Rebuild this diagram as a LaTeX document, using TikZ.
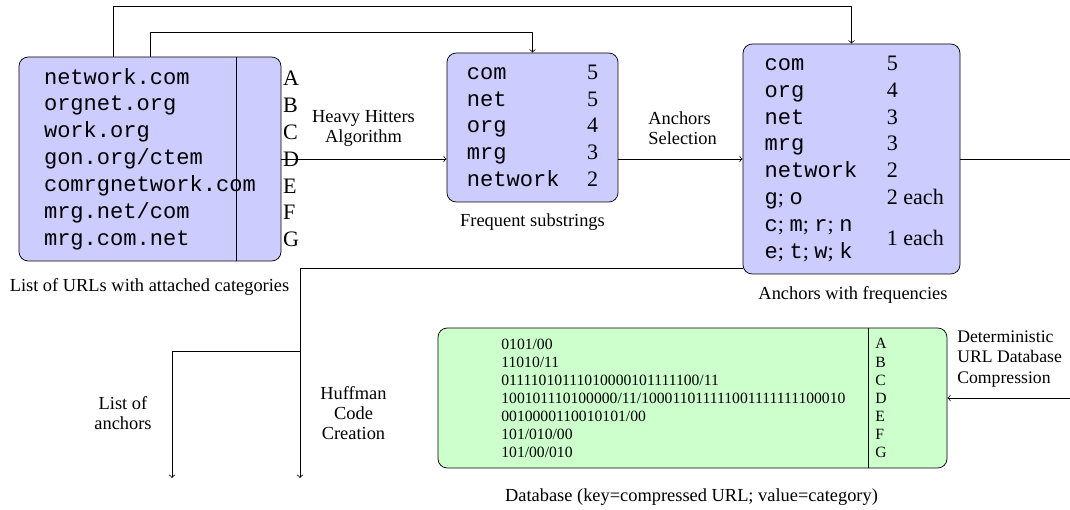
\documentclass[tikz,border=0pt]{standalone}
\usepackage{fontspec}
\setmainfont{Liberation Serif}
\setmonofont{Liberation Mono}
\begin{document}
\begin{tikzpicture}[x=0.5435pt,y=-0.5435pt,>=to,line join=round,
  font=\fontsize{10}{11}\selectfont,
  box/.style={draw,rounded corners=5pt,inner sep=0pt},
  bigtxt/.style={font=\fontsize{12}{14.6}\selectfont},
  bigtt/.style={font=\fontsize{12}{14.6}\selectfont\ttfamily},
  smalltxt/.style={font=\fontsize{8.5}{9.8}\selectfont}]
\def\pxu{0.5435pt}
\def\xmax{1070}
\def\ymax{510}
\useasboundingbox (0,0) rectangle (\xmax,\ymax);
% URL list
\node[box,fill=blue!20,bigtt,minimum width=262*\pxu,minimum height=204*\pxu,align=left] (urls) at (150,159)
  {network.com\\orgnet.org\\work.org\\gon.org/ctem\\comrgnetwork.com\\mrg.net/com\\mrg.com.net};
\coordinate (uv) at (236,0);
\draw (urls.north -| uv) -- (urls.south -| uv);
\node[bigtxt,align=left] (cats) at (291,159) {A\\B\\C\\D\\E\\F\\G};
\node (capurls) at (149.5,287) {List of URLs with attached categories};
% frequent substrings
\node[box,fill=blue!20,bigtxt,minimum width=171*\pxu,minimum height=149*\pxu] (freq) at (532.5,127.5)
  {\begin{tabular}{@{}l@{\hspace{15pt}}r@{}}
  \texttt{com} & 5\\ \texttt{net} & 5\\ \texttt{org} & 4\\ \texttt{mrg} & 3\\ \texttt{network} & 2
  \end{tabular}};
\node (capfreq) at (532.5,222) {Frequent substrings};
% anchors
\node[box,fill=blue!20,bigtxt,minimum width=217*\pxu,minimum height=230*\pxu] (anch) at (851.5,159)
  {\hspace{3pt}\begin{tabular}{@{}l@{\hspace{16pt}}l@{}}
  \texttt{com} & 5\\ \texttt{org} & 4\\ \texttt{net} & 3\\ \texttt{mrg} & 3\\ \texttt{network} & 2\\
  \texttt{g}; \texttt{o} & 2 each\\
  \begin{tabular}{@{}l@{}}\texttt{c}; \texttt{m}; \texttt{r}; \texttt{n}\\ \texttt{e}; \texttt{t}; \texttt{w}; \texttt{k}\end{tabular} & 1 each
  \end{tabular}};
\node (capanch) at (853,295) {Anchors with frequencies};
% database
\node[box,fill=green!20,minimum width=509*\pxu,minimum height=140*\pxu] (db) at (692.5,398) {};
\coordinate (dv) at (868,0);
\draw (db.north -| dv) -- (db.south -| dv);
\node[smalltxt,align=left,inner sep=0pt,anchor=west] (dbkey) at (501,398)
  {0101/00\\11010/11\\01111010111010000101111100/11\\100101110100000/11/100011011111001111111100010\\0010000110010101/00\\101/010/00\\101/00/010};
\node[smalltxt,align=left,inner sep=0pt,anchor=west] (dbcat) at (875,398) {A\\B\\C\\D\\E\\F\\G};
\node (capdb) at (691.5,497) {Database (key=compressed URL; value=category)};
% labels
\node[align=center] (heavy) at (363.5,128.5) {Heavy Hitters\\Algorithm};
\node[align=left,anchor=west,inner sep=0pt] (sel) at (648,128.5) {Anchors\\Selection};
\node[align=center] (listanch) at (123,413) {List of\\anchors};
\node[align=center] (huff) at (353.5,413) {Huffman\\Code\\Creation};
\node[align=left,anchor=west,inner sep=0pt,font=\fontsize{9.6}{11}\selectfont] (compr) at (957,359) {Deterministic\\URL Database\\Compression};
% connectors
\coordinate (t1) at (113,6);
\coordinate (t2) at (150,32);
\draw[->] (urls.north -| t1) -- (t1) -| (anch.north);
\draw[->] (urls.north -| t2) -- (t2) -| (freq.north);
\draw[->] (urls.east) -- (urls.east -| freq.west);
\draw[->] (anch.west -| freq.east) -- (anch.west);
\coordinate (rout) at (\xmax,159);
\coordinate (rin) at (\xmax,398);
\draw (anch.east) -- (rout);
\draw[->] (rin) -- (db.east);
\coordinate (hb) at (300,268);
\coordinate (hc) at (300,478);
\coordinate (lb) at (172,351);
\coordinate (lc) at (172,478);
\draw[->] (anch.west |- hb) -- (hb) -- (hc);
\draw[->] (hb |- lb) -- (lb) -- (lc);
\end{tikzpicture}
\end{document}
